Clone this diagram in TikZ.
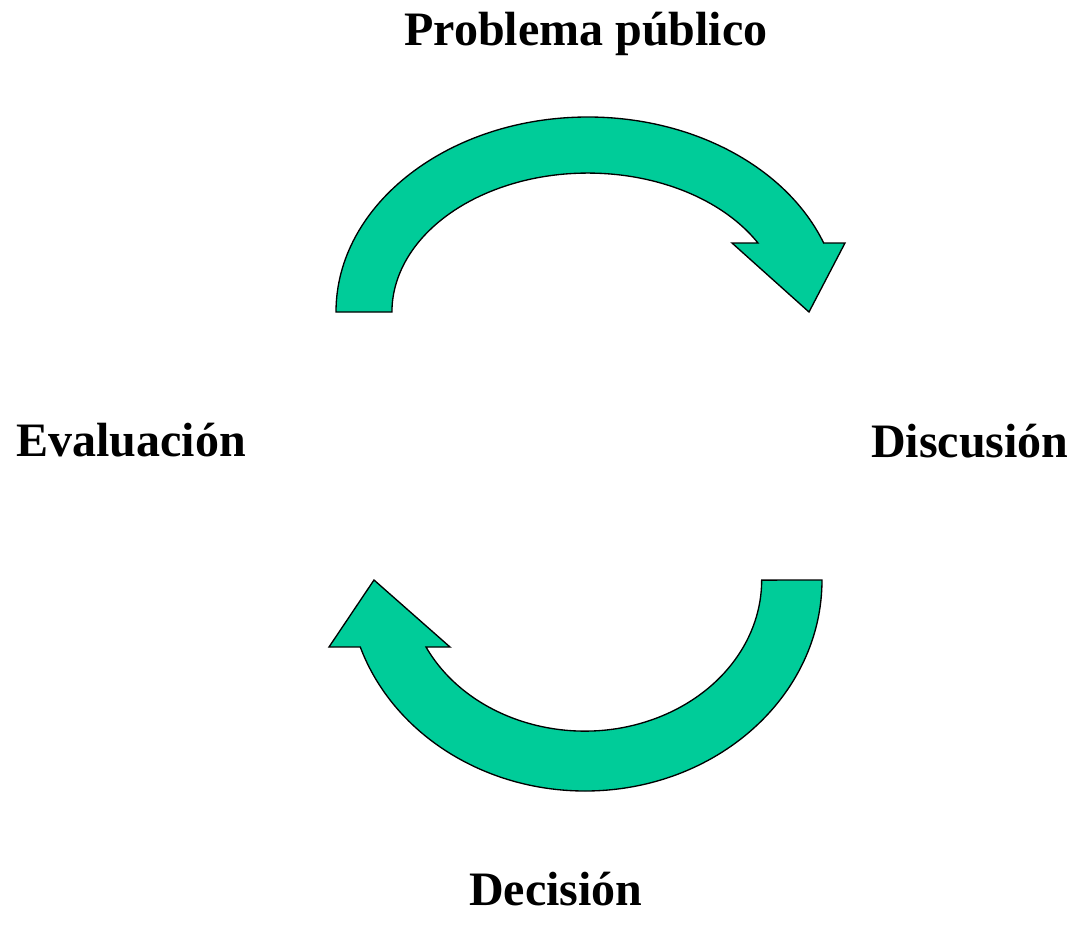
\documentclass[tikz,border=0pt]{standalone}
\usepackage{fontspec}
\setmainfont{Liberation Serif}
\usepackage{tikz}

\definecolor{cyclegreen}{RGB}{0,204,153}

\begin{document}
\begin{tikzpicture}[x=0.75pt,y=0.75pt,
    stage/.style={inner sep=0pt,anchor=base,font=\fontsize{36}{43}\selectfont\bfseries},
    curvearrow/.style={draw=black,line width=1pt,fill=cyclegreen,line join=miter}]
\useasboundingbox (0,0) rectangle (1076,-929);

\node[stage] (prob) at (586,-45)  {Problema público};
\node[stage] (eval) at (131,-456) {Evaluación};
\node[stage] (disc) at (970,-457) {Discusión};
\node[stage] (deci) at (556,-905) {Decisión};

% upper arrow, from Evaluación over to Discusión
\draw[curvearrow] (336,-312) arc[start angle=180,end angle=20.7,x radius=252,y radius=195]
    -- (845,-243) -- (809,-312) -- (732,-243) -- (758,-243)
    arc[start angle=29.8,end angle=180,x radius=196,y radius=139] -- cycle;

% lower arrow, from Discusión back to Evaluación
\draw[curvearrow] (822,-580) arc[start angle=0,end angle=-161.5,x radius=237,y radius=211]
    -- (329,-647) -- (374,-580) -- (450,-647) -- (426,-647)
    arc[start angle=-153.7,end angle=0,x radius=177,y radius=151] -- cycle;
\end{tikzpicture}
\end{document}
